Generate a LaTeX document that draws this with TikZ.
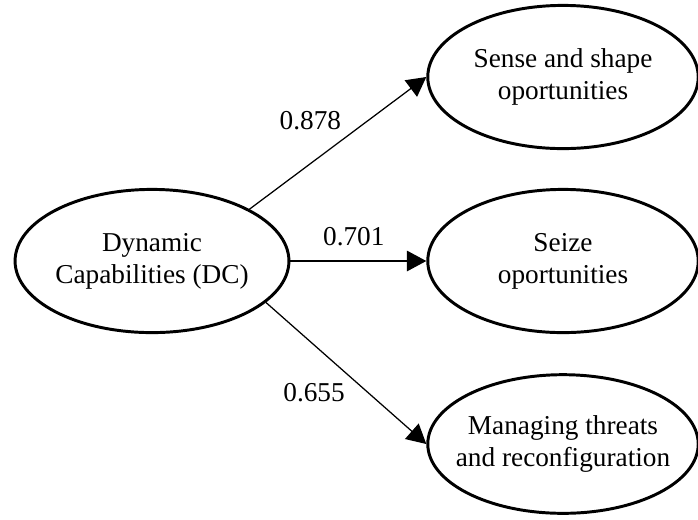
\documentclass[tikz,border=0pt]{standalone}
\usepackage{fontspec}
\setmainfont{Liberation Serif}
\usetikzlibrary{shapes.geometric,arrows.meta}

\begin{document}
\begin{tikzpicture}[x=0.44pt,y=-0.44pt]
\tikzstyle{every node}=[font=\fontsize{12}{14}\selectfont]
\tikzstyle{construct}=[draw, ellipse, line width=1.3pt, align=center, inner sep=0pt, inner xsep=-6pt, minimum width=119pt, minimum height=63pt]
\tikzstyle{path}=[-{Triangle[length=8.5pt,width=9pt]}, line width=0.55pt]

\useasboundingbox (0,0) rectangle (698,519);

\node[construct, minimum width=120.5pt] (DC) at (152,261) {Dynamic\\Capabilities (DC)};
\node[construct] (SS) at (563, 77) {Sense and shape\\oportunities};
\node[construct] (SZ) at (563,261) {Seize\\oportunities};
\node[construct, minimum height=61pt] (MT) at (563,444) {Managing threats\\and reconfiguration};

\draw[path] (DC.28) -- (SS.west) node[midway, above left, xshift=5pt, yshift=2pt] {0.878};
\draw[path] (DC.east) -- (SZ.west) node[midway, above=3pt, xshift=-2pt] {0.701};
\draw[path] (DC.-20) -- (MT.west) node[midway, below left, xshift=3pt, yshift=-1pt] {0.655};
\end{tikzpicture}
\end{document}
